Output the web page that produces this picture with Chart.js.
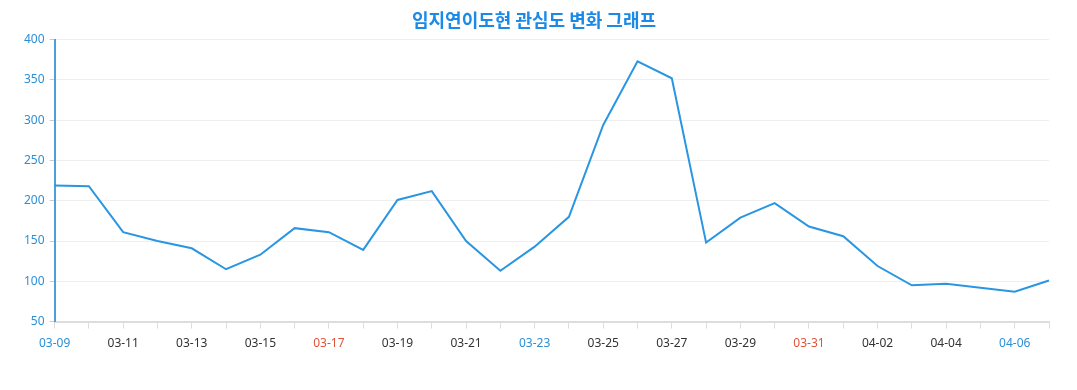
<!DOCTYPE html>
<html>
<head>
<meta charset="utf-8">
<script src="https://cdn.jsdelivr.net/npm/chart.js@4"></script>
<style>
  html, body { margin: 0; padding: 0; background: #fff; }
  #wrap { width: 1077px; height: 390px; }
</style>
</head>
<body>
<div id="wrap"><canvas id="chart"></canvas></div>
<script>
const dates = ["03-09","03-10","03-11","03-12","03-13","03-14","03-15","03-16","03-17","03-18",
               "03-19","03-20","03-21","03-22","03-23","03-24","03-25","03-26","03-27","03-28",
               "03-29","03-30","03-31","04-01","04-02","04-03","04-04","04-05","04-06","04-07"];
const interest = [219, 218, 161, 150, 141, 115, 133, 166, 161, 139,
                  201, 212, 150, 113, 143, 180, 294, 373, 352, 148,
                  179, 197, 168, 156, 119, 95, 97, 92, 87, 101];
const yTicks = [50, 100, 150, 200, 250, 300, 350, 400];
const saturdays = ["03-09", "03-16", "03-23", "03-30", "04-06"];
const sundays = ["03-10", "03-17", "03-24", "03-31", "04-07"];

const blue = "#2b8fd6";

function labelColor(ctx) {
    const d = dates[ctx.index];
    if (saturdays.includes(d)) return blue;
    if (sundays.includes(d)) return "#e0553a";
    return "#333333";
}

new Chart(document.getElementById("chart"), {
    type: "line",
    data: {
        labels: dates,
        datasets: [{
            label: "관심도",
            data: interest,
            borderColor: "#2a96e2",
            borderWidth: 2,
            pointRadius: 0,
            tension: 0,
            fill: false
        }]
    },
    options: {
        responsive: true,
        maintainAspectRatio: false,
        animation: false,
        layout: { padding: { left: 19, right: 28, top: 7, bottom: 31 } },
        plugins: {
            legend: { display: false },
            tooltip: { enabled: false },
            title: {
                display: true,
                text: "임지연이도현 관심도 변화 그래프",
                color: "#1a8ae6",
                font: { family: "'Noto Sans CJK KR'", size: 18, weight: "bold" },
                padding: { top: 2, bottom: 9 }
            }
        },
        scales: {
            x: {
                offset: false,
                grid: {
                    drawOnChartArea: false,
                    tickLength: 7,
                    color: "#dddddd",
                    lineWidth: 1
                },
                border: { color: "#dddddd", width: 2 },
                ticks: {
                    autoSkip: false,
                    maxRotation: 0,
                    padding: 8,
                    color: labelColor,
                    font: { family: "'Noto Sans'", size: 12 },
                    callback: function(value, index) {
                        return index % 2 === 0 ? dates[index] : "";
                    }
                }
            },
            y: {
                min: yTicks[0],
                max: yTicks[yTicks.length - 1],
                afterBuildTicks: function(axis) {
                    axis.ticks = yTicks.map(v => ({ value: v }));
                },
                grid: {
                    color: "#efefef",
                    tickColor: "#cccccc",
                    tickLength: 5
                },
                border: { color: "#4a9fdc", width: 2 },
                ticks: {
                    color: blue,
                    padding: 5,
                    font: { family: "'Noto Sans'", size: 12 }
                }
            }
        }
    }
});
</script>
</body>
</html>
